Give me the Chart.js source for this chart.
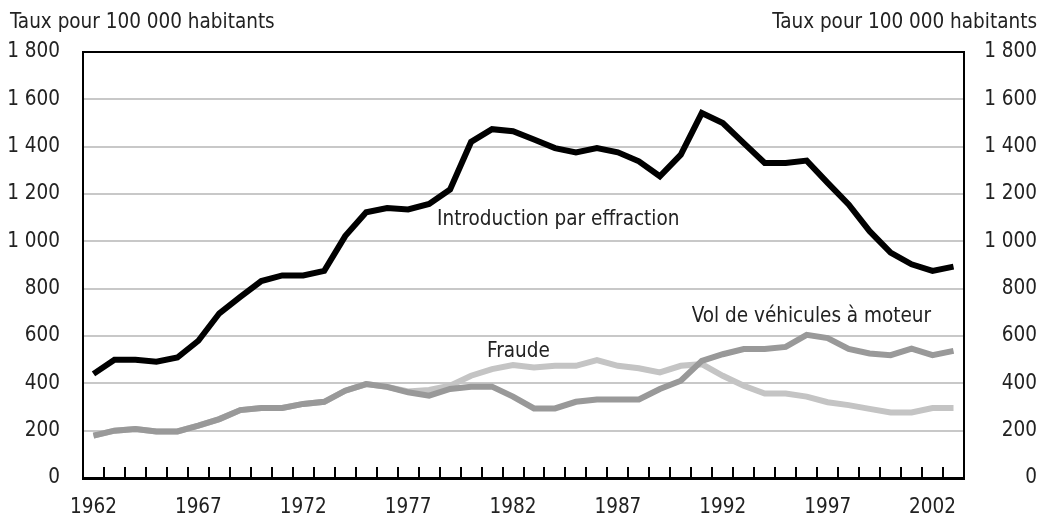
<!DOCTYPE html>
<html>
<head>
<meta charset="utf-8">
<script src="https://cdn.jsdelivr.net/npm/chart.js@4"></script>
<style>
  body { margin: 0; background: #fff; }
  #wrap { width: 1042px; height: 516px; }
</style>
</head>
<body>
<div id="wrap"><canvas id="crime-chart" width="1042" height="516"></canvas></div>
<script>
// years 1962 - 2003
const years = [];
for (let y = 1962; y <= 2003; y++) years.push(String(y));

// Introduction par effraction
const breakIns = [440, 500, 500, 491, 509, 580, 696, 765, 832, 856,
    856, 875, 1022, 1123, 1141, 1135, 1158, 1219, 1420, 1474,
    1465, 1430, 1394, 1376, 1394, 1376, 1338, 1275, 1366, 1542,
    1500, 1415, 1331, 1331, 1341, 1247, 1156, 1043, 952, 903,
    875, 893];

// Vol de véhicules à moteur
const vehicleThefts = [179, 200, 207, 197, 197, 221, 249, 287, 296, 296,
    313, 322, 369, 397, 385, 362, 348, 376, 386, 386,
    344, 294, 294, 322, 332, 332, 332, 376, 411, 495,
    523, 545, 545, 554, 605, 591, 545, 526, 519, 547,
    519, 537];

// Fraude
const frauds = [179, 200, 207, 197, 197, 221, 249, 287, 296, 296,
    313, 322, 369, 397, 385, 366, 372, 390, 432, 460,
    477, 467, 474, 474, 498, 474, 464, 446, 474, 481,
    432, 390, 357, 357, 344, 320, 308, 292, 277, 277,
    296, 296];

const yTicks = [0, 200, 400, 600, 800, 1000, 1200, 1400, 1600, 1800];
const unitLabel = 'Taux pour 100 000 habitants';

const FONT = "'DejaVu Sans Condensed', 'DejaVu Sans', sans-serif";
const FONT_SIZE = 20.5;

function spaced(n) {
    return String(n).replace(/\B(?=(\d{3})+(?!\d))/g, ' ');
}

// frame, inner tick marks and text labels
const extrasPlugin = {
    id: 'extras',
    afterDatasetsDraw(chart) {
        const ctx = chart.ctx;
        const area = chart.chartArea;
        const x = chart.scales.x;
        const y = chart.scales.y;
        ctx.save();
        ctx.strokeStyle = '#000';
        ctx.lineWidth = 2;
        ctx.beginPath();
        ctx.moveTo(area.left, area.top);
        ctx.lineTo(area.right, area.top);
        ctx.stroke();

        for (let i = 0; i < years.length - 1; i++) {
            const px = Math.round((x.getPixelForValue(i) + x.getPixelForValue(i + 1)) / 2);
            ctx.beginPath();
            ctx.moveTo(px, area.bottom);
            ctx.lineTo(px, area.bottom - 11);
            ctx.stroke();
        }

        ctx.font = FONT_SIZE + 'px ' + FONT;
        ctx.fillStyle = '#222';
        ctx.textBaseline = 'middle';
        ctx.textAlign = 'left';
        ctx.fillText('Introduction par effraction', x.getPixelForValue(16) + 8, y.getPixelForValue(1090));
        ctx.fillText('Fraude', x.getPixelForValue(18) + 16, y.getPixelForValue(535));
        ctx.fillText('Vol de véhicules à moteur', x.getPixelForValue(28) + 11, y.getPixelForValue(680));

        ctx.fillText(unitLabel, 10, 23);
        ctx.textAlign = 'right';
        ctx.fillText(unitLabel, 1037, 23);
        ctx.restore();
    }
};

const tickFont = { family: FONT, size: FONT_SIZE };

new Chart(document.querySelector('#crime-chart').getContext('2d'), {
    type: 'line',
    data: {
        labels: years,
        datasets: [
            { label: 'Introduction par effraction', data: breakIns, borderColor: '#000', order: 1 },
            { label: 'Vol de véhicules à moteur', data: vehicleThefts, borderColor: '#999999', order: 2 },
            { label: 'Fraude', data: frauds, borderColor: '#c4c4c4', order: 3 }
        ]
    },
    options: {
        responsive: false,
        animation: false,
        events: [],
        layout: { padding: { left: 0, right: 5, top: 52, bottom: 0 } },
        elements: {
            point: { radius: 0 },
            line: { borderWidth: 6, tension: 0, fill: false }
        },
        plugins: { legend: { display: false }, tooltip: { enabled: false } },
        scales: {
            x: {
                offset: true,
                grid: { display: false, drawTicks: false },
                border: { color: '#000', width: 3 },
                afterFit(scale) { scale.height = 38; },
                ticks: {
                    autoSkip: false,
                    maxRotation: 0,
                    padding: 17,
                    color: '#222',
                    font: tickFont,
                    callback: function (v, i) { return (i % 5 === 0) ? years[i] : ''; }
                }
            },
            y: {
                position: 'left',
                min: 0,
                max: 1800,
                afterBuildTicks(scale) { scale.ticks = yTicks.map(v => ({ value: v })); },
                afterFit(scale) { scale.width = 83; },
                grid: { color: '#c8c8c8', lineWidth: 2, drawTicks: false },
                border: { color: '#000', width: 2 },
                ticks: {
                    padding: 23,
                    color: '#222',
                    font: tickFont,
                    callback: v => spaced(v)
                }
            },
            y2: {
                position: 'right',
                min: 0,
                max: 1800,
                afterBuildTicks(scale) { scale.ticks = yTicks.map(v => ({ value: v })); },
                afterFit(scale) { scale.width = 73; },
                grid: { display: false, drawTicks: false },
                border: { color: '#000', width: 2 },
                ticks: {
                    crossAlign: 'far',
                    padding: 0,
                    color: '#222',
                    font: tickFont,
                    callback: v => spaced(v)
                }
            }
        }
    },
    plugins: [extrasPlugin]
});
</script>
</body>
</html>
